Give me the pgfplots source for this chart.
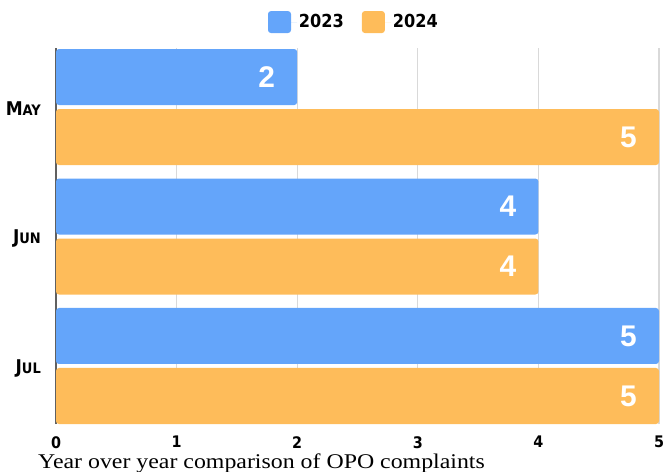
\documentclass[border=0pt]{standalone}
\usepackage{fontspec}
\usepackage{pgfplots}
\pgfplotsset{compat=1.18}
\setmainfont{Liberation Sans}
\newfontfamily\condfont{DejaVu Sans Condensed}
\newfontfamily\capfont{Liberation Serif}[FakeStretch=1.14]
\definecolor{cblue}{HTML}{64A5FA}
\definecolor{corange}{HTML}{FEBC5A}
\definecolor{gridc}{HTML}{D9D9D9}
\newcommand\sm{\fontsize{14.5}{14.5}\selectfont}
\begin{document}
\begin{tikzpicture}[x=1bp,y=1bp]
\useasboundingbox (0,0) rectangle (666,-472);
\begin{axis}[
  at={(56bp,-424bp)}, anchor=south west,
  scale only axis, width=603bp, height=376bp,
  xbar,
  xmin=0, xmax=5, ymin=-0.448, ymax=2.456,
  xtick={0,1,2,3,4,5},
  ytick={0,1,2},
  yticklabels={{J{\sm UL}},{J{\sm UN}},{M{\sm AY}}},
  /pgf/number format/assume math mode=true,
  major tick length=0pt,
  axis line style={draw=none},
  xmajorgrids,
  grid style={draw=gridc, line width=1.2bp},
  extra x ticks={0},
  extra x tick labels={},
  extra x tick style={grid style={draw=gray!75!black, line width=1.2bp}},
  xticklabel style={inner sep=0pt, yshift=-12bp, font=\condfont\bfseries\fontsize{16}{16}\selectfont},
  yticklabel style={inner sep=0pt, xshift=-15bp, yshift=-2bp, font=\condfont\bfseries\fontsize{19}{19}\selectfont},
  nodes near coords,
  every node near coord/.append style={anchor=east, text=white, inner sep=0pt, xshift=-22bp,
     font=\bfseries\fontsize{30}{30}\selectfont},
  bar width=56bp,
  legend style={at={(0.494,1.069)}, anchor=center, draw=none, fill=none,
     legend columns=-1, font=\condfont\bfseries\fontsize{18}{18}\selectfont,
     /tikz/every even column/.append style={column sep=16bp}},
  every axis plot post/.append style={legend image code/.code={\fill[##1] (0bp,-11bp) rectangle (23bp,11bp);\path (23bp,0bp) -- (29bp,0bp);}},
]
\addplot[draw=none, fill=cblue, rounded corners=3bp, bar shift=30bp] coordinates {(2,2) (4,1) (5,0)};
\addlegendentry{2023}
\addplot[draw=none, fill=corange, rounded corners=3bp, bar shift=-30bp] coordinates {(5,2) (4,1) (5,0)};
\addlegendentry{2024}
\end{axis}
\node[anchor=base west, inner sep=0pt, font=\capfont\fontsize{21}{21}\selectfont] at (38,-468) {Year over year comparison of OPO complaints};
\end{tikzpicture}
\end{document}
